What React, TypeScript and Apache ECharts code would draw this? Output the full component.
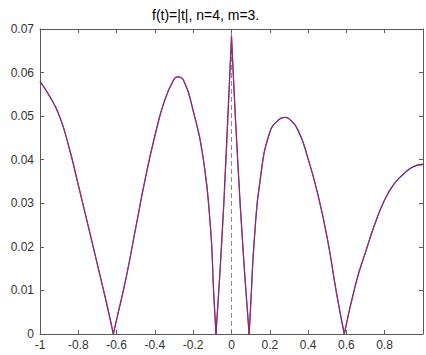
import React, { useEffect, useRef } from "react";
import * as echarts from "echarts";

const titleText = "f(t)=|t|, n=4, m=3.";
const xTicks = [-1, -0.8, -0.6, -0.4, -0.2, 0, 0.2, 0.4, 0.6, 0.8, 1];
const yTicks = [0, 0.01, 0.02, 0.03, 0.04, 0.05, 0.06, 0.07];

const tValues = [
  -1, -0.95, -0.9, -0.85, -0.8, -0.75, -0.7, -0.65, -0.617,
  -0.6, -0.55, -0.5, -0.45, -0.4, -0.35, -0.3, -0.283, -0.25, -0.2, -0.15, -0.11, -0.093, -0.081,
  -0.04, 0,
  0.045, 0.092,
  0.1, 0.12, 0.15, 0.2, 0.25, 0.278, 0.3, 0.35, 0.4, 0.45, 0.5, 0.55, 0.589,
  0.65, 0.7, 0.75, 0.8, 0.85, 0.9, 0.95, 1,
];
const blueValues = [
  0.058, 0.0546, 0.0502, 0.0431, 0.0342, 0.0251, 0.0159, 0.0066, 0,
  0.0033, 0.013, 0.0244, 0.0357, 0.0455, 0.0535, 0.0585, 0.059, 0.0582, 0.0512, 0.041, 0.0246, 0.0094, 0,
  0.03, 0.0682,
  0.03, 0,
  0.0065, 0.0222, 0.0355, 0.0463, 0.0493, 0.0497, 0.0494, 0.0465, 0.0402, 0.0322, 0.022, 0.009, 0,
  0.0117, 0.0188, 0.0254, 0.0308, 0.0345, 0.0368, 0.0384, 0.0389,
];
const redValues = [
  0.058, 0.0546, 0.0502, 0.0431, 0.0342, 0.0251, 0.0159, 0.0066, 0,
  0.0033, 0.013, 0.0244, 0.0357, 0.0455, 0.0535, 0.0585, 0.059, 0.0582, 0.0512, 0.041, 0.0246, 0.0094, 0,
  0.03, 0.0685,
  0.03, 0,
  0.0065, 0.0222, 0.0355, 0.0463, 0.0493, 0.0497, 0.0494, 0.0465, 0.0402, 0.0322, 0.022, 0.009, 0,
  0.0117, 0.0188, 0.0254, 0.0308, 0.0345, 0.0368, 0.0384, 0.039,
];
const dashX = [0, 0];
const dashY = [0, 0.07];

function segments(ts: number[], vs: number[]) {
  const segs: number[][][] = [];
  let cur: number[][] = [];
  ts.forEach((t, i) => {
    cur.push([t, vs[i]]);
    const split = (vs[i] === 0 || t === 0) && i > 0 && i < ts.length - 1;
    if (split) {
      segs.push(cur);
      cur = [[t, vs[i]]];
    }
  });
  if (cur.length > 1) segs.push(cur);
  return segs;
}

export default function App() {
  const ref = useRef<HTMLDivElement>(null);
  useEffect(() => {
    if (!ref.current) return;
    const chart = echarts.init(ref.current, undefined, { renderer: "svg" });
    const font = "Liberation Sans, Arial, sans-serif";
    const axisColor = "#5a5a5a";
    const series: any[] = [];
    segments(tValues, blueValues).forEach((d) =>
      series.push({
        type: "line",
        data: d,
        showSymbol: false,
        smooth: 0.5,
        lineStyle: { color: "#3a2ab8", width: 1.3 },
        z: 2,
      })
    );
    segments(tValues, redValues).forEach((d) =>
      series.push({
        type: "line",
        data: d,
        showSymbol: false,
        smooth: 0.5,
        lineStyle: { color: "#c8283a", width: 1, opacity: 0.8 },
        z: 3,
      })
    );
    series.push({
      type: "line",
      data: dashX.map((x, i) => [x, dashY[i]]),
      showSymbol: false,
      lineStyle: { color: "#707070", width: 0.8, type: [5, 3] },
      z: 1,
    });
    const xFmt = (v: number) => (v === 1 ? "" : String(+v.toFixed(1)));
    const yFmt = (v: number) => String(+v.toFixed(2));
    chart.setOption({
      animation: false,
      title: {
        text: titleText,
        left: 147,
        top: 3,
        textStyle: { fontFamily: font, fontSize: 14, fontWeight: "normal", color: "#000" },
      },
      grid: { left: 40, right: 0, top: 29, bottom: 21, containLabel: false },
      xAxis: [
        {
          type: "value",
          min: xTicks[0],
          max: xTicks[xTicks.length - 1],
          interval: 0.2,
          position: "bottom",
          axisLine: { show: true, onZero: false, lineStyle: { color: axisColor, width: 1 } },
          axisTick: { show: true, inside: true, length: 4, lineStyle: { color: axisColor } },
          axisLabel: { formatter: xFmt, color: "#333", fontFamily: font, fontSize: 12, margin: 5 },
          splitLine: { show: false },
        },
        {
          type: "value",
          min: xTicks[0],
          max: xTicks[xTicks.length - 1],
          interval: 0.2,
          position: "top",
          axisLine: { show: true, onZero: false, lineStyle: { color: axisColor, width: 1 } },
          axisTick: { show: true, inside: true, length: 4, lineStyle: { color: axisColor } },
          axisLabel: { show: false },
          splitLine: { show: false },
        },
      ],
      yAxis: [
        {
          type: "value",
          min: yTicks[0],
          max: yTicks[yTicks.length - 1],
          interval: 0.01,
          position: "left",
          axisLine: { show: true, onZero: false, lineStyle: { color: axisColor, width: 1 } },
          axisTick: { show: true, inside: true, length: 4, lineStyle: { color: axisColor } },
          axisLabel: { formatter: yFmt, color: "#333", fontFamily: font, fontSize: 12, margin: 6 },
          splitLine: { show: false },
        },
        {
          type: "value",
          min: yTicks[0],
          max: yTicks[yTicks.length - 1],
          interval: 0.01,
          position: "right",
          axisLine: { show: true, onZero: false, lineStyle: { color: axisColor, width: 1 } },
          axisTick: { show: true, inside: true, length: 4, lineStyle: { color: axisColor } },
          axisLabel: { show: false },
          splitLine: { show: false },
        },
      ],
      series,
    });
    return () => chart.dispose();
  }, []);
  return (
    <div
      ref={ref}
      style={{ position: "fixed", left: 0, top: 0, width: 426, height: 355, background: "#fff" }}
    />
  );
}
